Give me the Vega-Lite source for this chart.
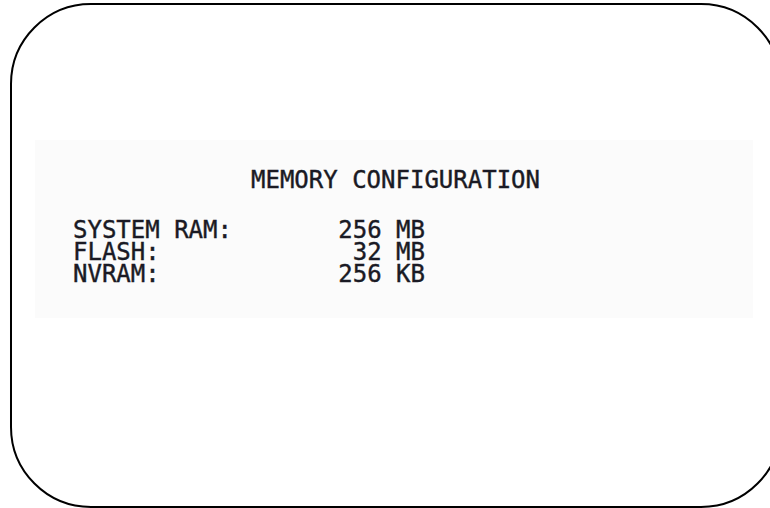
{
  "$schema": "https://vega.github.io/schema/vega-lite/v6.json",
  "width": 770,
  "height": 508,
  "autosize": {"type": "none"},
  "padding": 0,
  "background": "white",
  "config": {"view": {"stroke": null}},
  "datasets": {
    "boxes": [
      {"part": "panel", "x0": 35, "x1": 753, "y0": 140, "y1": 318},
      {"part": "frame", "x0": 11, "x1": 781, "y0": 4, "y1": 507}
    ],
    "texts": [
      {"label": "MEMORY CONFIGURATION", "x": 251, "y": 188, "side": "left"},
      {"label": "SYSTEM RAM:", "x": 73, "y": 238, "side": "left"},
      {"label": "FLASH:", "x": 73, "y": 260, "side": "left"},
      {"label": "NVRAM:", "x": 73, "y": 282, "side": "left"},
      {"label": "256 MB", "x": 425, "y": 238, "side": "right"},
      {"label": "32 MB", "x": 425, "y": 260, "side": "right"},
      {"label": "256 KB", "x": 425, "y": 282, "side": "right"}
    ]
  },
  "layer": [
    {
      "data": {"name": "boxes"},
      "transform": [{"filter": "datum.part === 'panel'"}],
      "mark": {"type": "rect", "fill": "#fbfbfb", "stroke": null},
      "encoding": {
        "x": {"field": "x0", "type": "quantitative", "scale": {"domain": [0, 770], "nice": false, "zero": false}, "axis": null},
        "x2": {"field": "x1"},
        "y": {"field": "y0", "type": "quantitative", "scale": {"domain": [0, 508], "nice": false, "zero": false, "reverse": true}, "axis": null},
        "y2": {"field": "y1"}
      }
    },
    {
      "data": {"name": "boxes"},
      "transform": [{"filter": "datum.part === 'frame'"}],
      "mark": {"type": "rect", "fill": null, "stroke": "#000000", "strokeWidth": 2, "cornerRadius": 80},
      "encoding": {
        "x": {"field": "x0", "type": "quantitative", "scale": {"domain": [0, 770], "nice": false, "zero": false}, "axis": null},
        "x2": {"field": "x1"},
        "y": {"field": "y0", "type": "quantitative", "scale": {"domain": [0, 508], "nice": false, "zero": false, "reverse": true}, "axis": null},
        "y2": {"field": "y1"}
      }
    },
    {
      "data": {"name": "texts"},
      "transform": [{"filter": "datum.side === 'left'"}],
      "mark": {"type": "text", "align": "left", "baseline": "alphabetic", "font": "DejaVu Sans Mono", "fontSize": 24, "fill": "#1a1a24", "stroke": "#1a1a24", "strokeWidth": 0.4},
      "encoding": {
        "x": {"field": "x", "type": "quantitative", "scale": {"domain": [0, 770], "nice": false, "zero": false}, "axis": null},
        "y": {"field": "y", "type": "quantitative", "scale": {"domain": [0, 508], "nice": false, "zero": false, "reverse": true}, "axis": null},
        "text": {"field": "label"}
      }
    },
    {
      "data": {"name": "texts"},
      "transform": [{"filter": "datum.side === 'right'"}],
      "mark": {"type": "text", "align": "right", "baseline": "alphabetic", "font": "DejaVu Sans Mono", "fontSize": 24, "fill": "#1a1a24", "stroke": "#1a1a24", "strokeWidth": 0.4},
      "encoding": {
        "x": {"field": "x", "type": "quantitative", "scale": {"domain": [0, 770], "nice": false, "zero": false}, "axis": null},
        "y": {"field": "y", "type": "quantitative", "scale": {"domain": [0, 508], "nice": false, "zero": false, "reverse": true}, "axis": null},
        "text": {"field": "label"}
      }
    }
  ]
}
